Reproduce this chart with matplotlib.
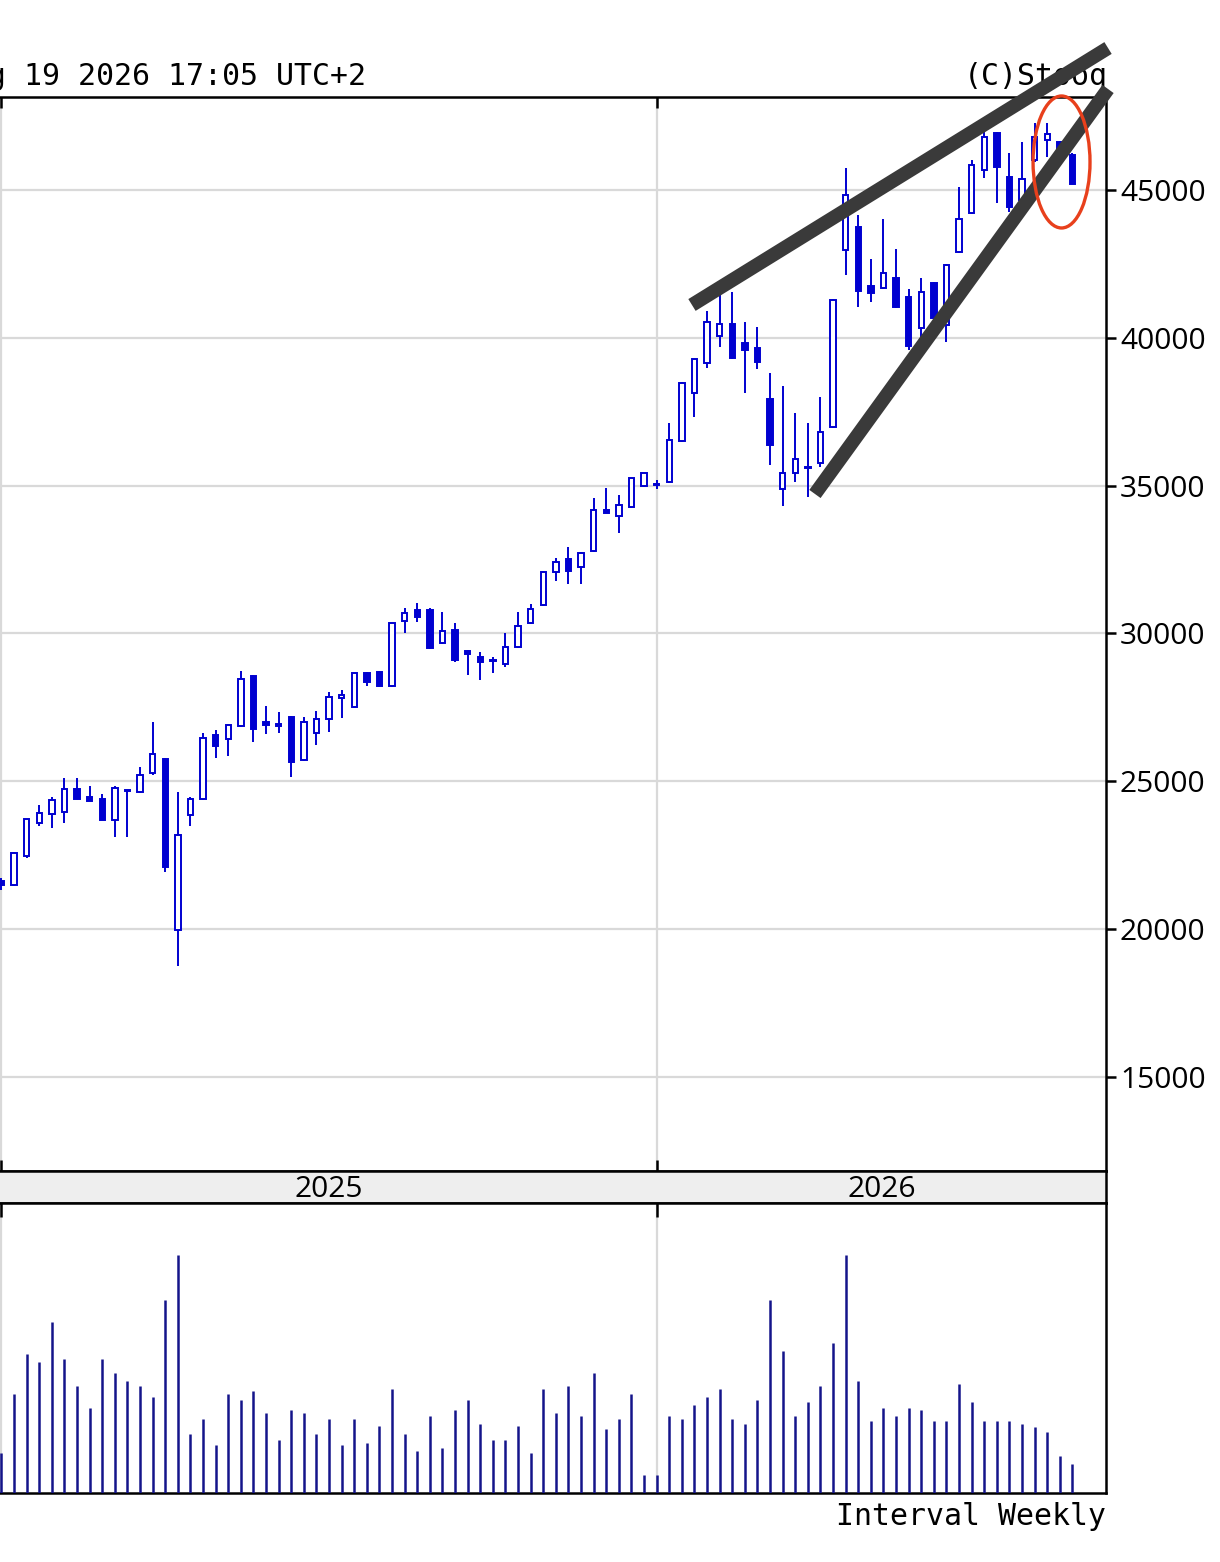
import numpy as np
import matplotlib.pyplot as plt
from matplotlib.patches import Ellipse

plt.rcParams['font.family'] = ['Open Sans', 'DejaVu Sans']

# weekly candles, index 0 = first week of 2025
opens = [21630, 21490, 22470, 23590, 23890, 23960, 24740, 24460, 24400, 23690,
         24680, 24630, 25280, 25750, 19970, 23860, 24400, 26560, 26430, 26870,
         28560, 27000, 26940, 27170, 25720, 26630, 27100, 27810, 27510, 28660,
         28690, 28220, 30420, 30790, 30790, 29680, 30120, 29400, 29200, 29100,
         28970, 29540, 30350, 30960, 32080, 32520, 32250, 32790, 34170, 33970,
         34280, 34990, 35050, 35120, 36510, 38130, 39150, 40060, 40470, 39820,
         39660, 37930, 34890, 35430, 35630, 35760, 36980, 42970, 43750, 41750,
         41690, 42020, 41380, 40330, 41850, 40430, 42900, 44220, 45680, 46930,
         45440, 44660, 46020, 46690, 46620, 46180]
highs = [21730, 22600, 23740, 24200, 24460, 25110, 25110, 24840, 24570, 24840,
         24720, 25480, 27000, 25780, 24630, 24460, 26630, 26730, 26950, 28730,
         28600, 27540, 27340, 27200, 27170, 27370, 28020, 28090, 28680, 28700,
         28730, 30370, 30860, 31030, 30860, 30720, 30350, 29440, 29370, 29200,
         30010, 30720, 30990, 32100, 32550, 32920, 32740, 34580, 34920, 34680,
         35270, 35440, 35190, 37120, 38490, 39300, 40910, 41890, 41550, 40530,
         40370, 38810, 38370, 37460, 37120, 38000, 41300, 45740, 44150, 42670,
         44020, 43000, 41650, 42020, 41890, 42480, 45100, 46020, 47030, 46960,
         46250, 46620, 47270, 47270, 46650, 46250]
lows = [21320, 21450, 22410, 23480, 23420, 23590, 24390, 24320, 23680, 23110,
        23110, 24600, 25210, 21930, 18750, 23480, 24380, 25790, 25850, 26840,
        26330, 26600, 26630, 25140, 25690, 26220, 26660, 27140, 27490, 28220,
        28200, 28200, 30010, 30390, 29490, 29660, 29030, 28590, 28420, 28660,
        28860, 29520, 30330, 30940, 31770, 31670, 31670, 32770, 34060, 33400,
        34240, 34970, 34890, 35100, 36490, 37320, 38980, 39690, 39300, 38130,
        38940, 35700, 34310, 35120, 34610, 35630, 36960, 42120, 41040, 41210,
        41660, 41020, 39600, 40030, 40600, 39860, 42880, 44200, 45410, 44560,
        44260, 44600, 45950, 46120, 45900, 45190]
closes = [21490, 22570, 23720, 23930, 24360, 24740, 24400, 24330, 23690, 24770,
          24710, 25210, 25920, 22100, 23180, 24400, 26460, 26190, 26900, 28460,
          26770, 26900, 26870, 25650, 27000, 27100, 27850, 27920, 28660, 28360,
          28220, 30350, 30690, 30560, 29510, 30080, 29100, 29300, 29030, 29070,
          29540, 30250, 30830, 32080, 32420, 32110, 32720, 34170, 34070, 34340,
          35260, 35430, 35020, 36540, 38470, 39280, 40530, 40470, 39320, 39590,
          39180, 36370, 35430, 35900, 35600, 36810, 41280, 44830, 41580, 41520,
          42190, 41040, 39720, 41550, 40670, 42460, 44020, 45850, 46790, 45780,
          44430, 45370, 46790, 46890, 46020, 45200]
volumes = [40, 99, 139, 131, 171, 134, 107, 85, 134, 120,
           112, 107, 96, 193, 238, 59, 74, 48, 99, 93,
           102, 80, 53, 83, 80, 59, 74, 48, 74, 50,
           67, 104, 59, 42, 77, 45, 83, 93, 69, 53,
           53, 67, 40, 104, 80, 107, 77, 120, 64, 74,
           99, 18, 18, 77, 74, 88, 96, 104, 74, 69,
           93, 193, 142, 77, 91, 107, 150, 238, 112, 72,
           85, 77, 85, 83, 72, 72, 109, 91, 72, 72,
           72, 69, 66, 61, 37, 29]

year_labels = ['2025', '2026']
year_start = [0, 52]

BLUE = '#0000d0'
NAVY = '#14148a'
GRID = '#d9d9d9'

W, H = 1220, 1562
fig = plt.figure(figsize=(W / 100, H / 100), dpi=100)


def box(l, t, r, b):
    return [l / W, 1 - b / H, (r - l) / W, (b - t) / H]


ax = fig.add_axes(box(0, 97, 1106, 1171))
band = fig.add_axes(box(0, 1171, 1106, 1203))
axv = fig.add_axes(box(0, 1203, 1106, 1493))

step = 12.6
xlim = (-1.5 / step, (1106 - 1.5) / step)

week = np.arange(len(opens))
o = np.array(opens)
c = np.array(closes)
up = c >= o
body_lo = np.minimum(o, c)
body_h = np.maximum(np.abs(c - o), 40)

# candles
ax.vlines(week, lows, highs, color=BLUE, lw=1.4, zorder=2)
ax.bar(week[up], body_h[up], bottom=body_lo[up], width=0.42,
       facecolor='white', edgecolor=BLUE, lw=1.4, zorder=3)
ax.bar(week[~up], body_h[~up], bottom=body_lo[~up], width=0.42,
       facecolor=BLUE, edgecolor=BLUE, lw=1.4, zorder=3)

ax.set_xlim(*xlim)
ax.set_ylim(11821, 48145)
ax.set_yticks(range(15000, 50000, 5000))
ax.set_xticks(year_start)
ax.yaxis.tick_right()
ax.grid(True, color=GRID, lw=1.6)
ax.set_axisbelow(True)
ax.tick_params(axis='y', direction='out', length=7, width=1.8, labelsize=21.5, pad=3,
               left=False, right=True)
ax.tick_params(axis='x', direction='in', length=8, width=1.8, top=True, bottom=True,
               labelbottom=False)
ax.spines['left'].set_visible(False)
for s in ['top', 'right', 'bottom']:
    ax.spines[s].set_linewidth(1.8)

# hand drawn wedge and marker
ax.plot([54.80, 87.82], [41111, 49802], color='#3a3a3a', lw=10,
        solid_capstyle='butt', clip_on=False, zorder=6)
ax.plot([64.56, 87.82], [34719, 48416], color='#3a3a3a', lw=10,
        solid_capstyle='butt', clip_on=False, zorder=6)
ax.add_patch(Ellipse((84.13, 45947), 4.52, 4464, fill=False, edgecolor='#e8401c',
                     lw=2.4, clip_on=False, zorder=7))

# year band
band.set_facecolor('#eeeeee')
band.set_xlim(*xlim)
band.set_ylim(0, 1)
band.set_xticks([])
band.set_yticks([])
band.spines['left'].set_visible(False)
for s in ['top', 'right', 'bottom']:
    band.spines[s].set_linewidth(1.8)
bounds = year_start + [xlim[1]]
for i, lab in enumerate(year_labels):
    band.text((bounds[i] + bounds[i + 1]) / 2, 0.19, lab, ha='center', va='baseline',
              fontsize=21.5)

# volume
axv.vlines(week, 0, volumes, color=NAVY, lw=1.8, zorder=3)
axv.set_xlim(*xlim)
axv.set_ylim(0, 290)
axv.set_xticks(year_start)
axv.set_yticks([])
axv.grid(True, axis='x', color=GRID, lw=1.6)
axv.set_axisbelow(True)
axv.tick_params(axis='x', direction='in', length=10, width=1.8, top=True, bottom=False,
                labelbottom=False)
axv.spines['left'].set_visible(False)
for s in ['top', 'right', 'bottom']:
    axv.spines[s].set_linewidth(1.8)

# header / footer texts (chart is cropped on the left, like the reference)
mono = 'DejaVu Sans Mono'
fig.text(-48 / W, 1 - 85 / H, 'Aug 19 2026 17:05 UTC+2', family=mono, fontsize=21.5,
         ha='left', va='baseline')
fig.text(1108 / W, 1 - 85 / H, '(C)Stooq', family=mono, fontsize=21.5,
         ha='right', va='baseline', zorder=-1)
fig.text(1106 / W, 1 - 1525 / H, 'Interval Weekly', family=mono, fontsize=21.5,
         ha='right', va='baseline')

fig.savefig('out.png', dpi=100)
